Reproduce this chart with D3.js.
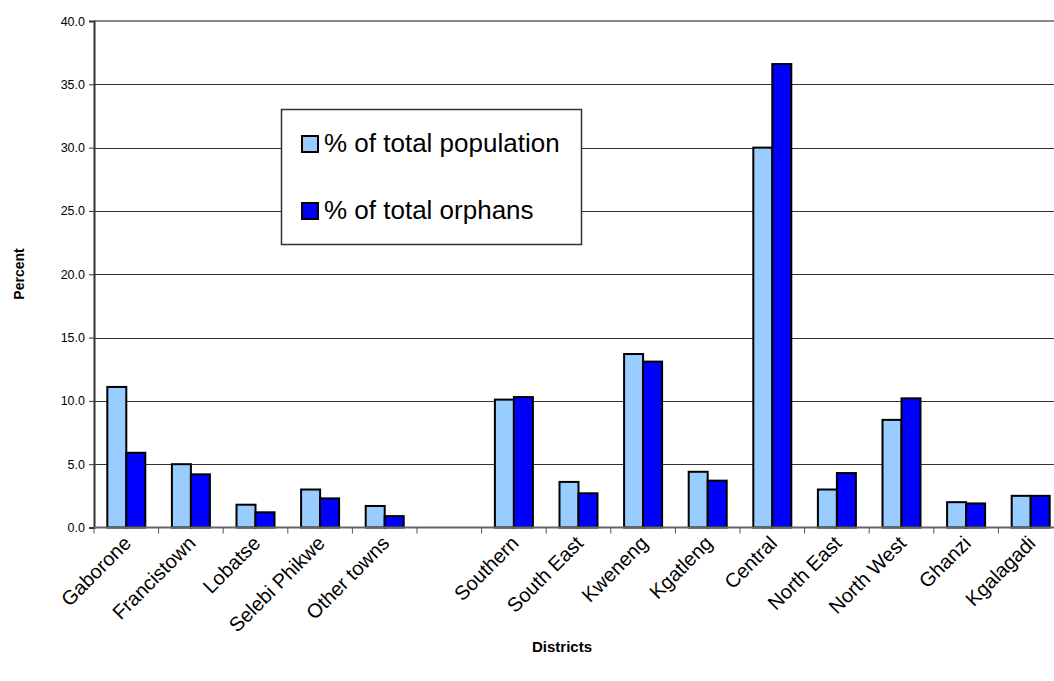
<!DOCTYPE html>
<html>
<head>
<meta charset="utf-8">
<script src="https://cdn.jsdelivr.net/npm/d3@7"></script>
<style>
  html, body { margin: 0; padding: 0; background: #fff; }
  svg { display: block; font-family: "Liberation Sans", Arial, sans-serif; }
</style>
</head>
<body>
<svg id="chart" width="1054" height="681"></svg>
<script>
// District names (empty slot separates towns from rural districts)
const districts = ["Gaborone", "Francistown", "Lobatse", "Selebi Phikwe", "Other towns", "",
  "Southern", "South East", "Kweneng", "Kgatleng", "Central", "North East", "North West", "Ghanzi", "Kgalagadi"];
const pctPopulation = [11.1, 5.0, 1.8, 3.0, 1.7, null, 10.1, 3.6, 13.7, 4.4, 30.0, 3.0, 8.5, 2.0, 2.5];
const pctOrphans    = [5.9, 4.2, 1.2, 2.3, 0.9, null, 10.3, 2.7, 13.1, 3.7, 36.6, 4.3, 10.2, 1.9, 2.5];
const seriesNames = ["% of total population", "% of total orphans"];
const seriesColors = ["#99CCFF", "#0000FF"];
const yTicks = [0, 5, 10, 15, 20, 25, 30, 35, 40];

const svg = d3.select("#chart");
const plotLeft = 94, plotTop = 21, plotBottom = 527.5;
const band = 64.6;
const plotRight = plotLeft + band * districts.length;

const x = d3.scaleBand().domain(d3.range(districts.length)).range([plotLeft, plotRight]).paddingInner(0).paddingOuter(0);
const sub = d3.scaleBand().domain([0, 1]).range([0, x.bandwidth()]).paddingOuter(0.7).paddingInner(0);
const y = d3.scaleLinear().domain([0, 40]).range([plotBottom, plotTop]);

// Horizontal gridlines
svg.append("g").selectAll("line").data(yTicks.filter(t => t > 0 && t < 40)).join("line")
  .attr("x1", plotLeft).attr("x2", plotRight)
  .attr("y1", d => Math.round(y(d)) + 0.5).attr("y2", d => Math.round(y(d)) + 0.5)
  .attr("stroke", "#333").attr("stroke-width", 1.2);

// Top border of plot area
svg.append("line").attr("x1", plotLeft).attr("x2", plotRight)
  .attr("y1", y(40)).attr("y2", y(40)).attr("stroke", "#888").attr("stroke-width", 2);

// Bars
const seriesData = [pctPopulation, pctOrphans];
seriesData.forEach((vals, s) => {
  svg.append("g").selectAll("rect").data(vals.map((v, i) => ({ v, i })).filter(d => d.v != null)).join("rect")
    .attr("x", d => x(d.i) + sub(s))
    .attr("y", d => y(d.v))
    .attr("width", sub.bandwidth())
    .attr("height", d => y(0) - y(d.v))
    .attr("fill", seriesColors[s])
    .attr("stroke", "#000").attr("stroke-width", 2);
});

// Y axis
const yAxis = d3.axisLeft(y).tickValues(yTicks).tickFormat(d3.format(".1f")).tickSize(5).tickPadding(4);
const gy = svg.append("g").attr("transform", `translate(${plotLeft},0)`).call(yAxis);
gy.select(".domain").attr("stroke", "#333").attr("stroke-width", 2);
gy.selectAll(".tick line").attr("stroke", "#333");
gy.selectAll("text").attr("font-size", 12.5).attr("fill", "#000").attr("font-family", "Liberation Sans, Arial, sans-serif");

// X axis baseline and ticks at band boundaries
svg.append("line").attr("x1", plotLeft).attr("x2", plotRight).attr("y1", plotBottom).attr("y2", plotBottom)
  .attr("stroke", "#666").attr("stroke-width", 2);
svg.append("g").selectAll("line").data(d3.range(districts.length + 1)).join("line")
  .attr("x1", d => plotLeft + d * band).attr("x2", d => plotLeft + d * band)
  .attr("y1", plotBottom).attr("y2", plotBottom + 6)
  .attr("stroke", "#555").attr("stroke-width", 1);

// Category labels, rotated
svg.append("g").selectAll("text").data(districts.map((d, i) => ({ d, i }))).join("text")
  .attr("transform", d => `translate(${x(d.i) + x.bandwidth() / 2 + 6},${plotBottom + 17}) rotate(-45)`)
  .attr("text-anchor", "end")
  .attr("font-size", 20)
  .attr("fill", "#000")
  .text(d => d.d);

// Axis titles
svg.append("text").attr("transform", `translate(24,274) rotate(-90)`)
  .attr("text-anchor", "middle").attr("font-size", 14).attr("font-weight", "bold").text("Percent");
svg.append("text").attr("x", 562).attr("y", 652)
  .attr("text-anchor", "middle").attr("font-size", 15).attr("font-weight", "bold").text("Districts");

// Legend
const lg = svg.append("g");
lg.append("rect").attr("x", 281.5).attr("y", 109.5).attr("width", 300).attr("height", 135)
  .attr("fill", "#fff").attr("stroke", "#333").attr("stroke-width", 1.5);
seriesNames.forEach((name, s) => {
  const yy = 136 + s * 67;
  lg.append("rect").attr("x", 302).attr("y", yy).attr("width", 16).attr("height", 16)
    .attr("fill", seriesColors[s]).attr("stroke", "#000").attr("stroke-width", 2);
  lg.append("text").attr("x", 324).attr("y", yy + 16).attr("font-size", 26).attr("fill", "#000").text(name);
});
</script>
</body>
</html>
